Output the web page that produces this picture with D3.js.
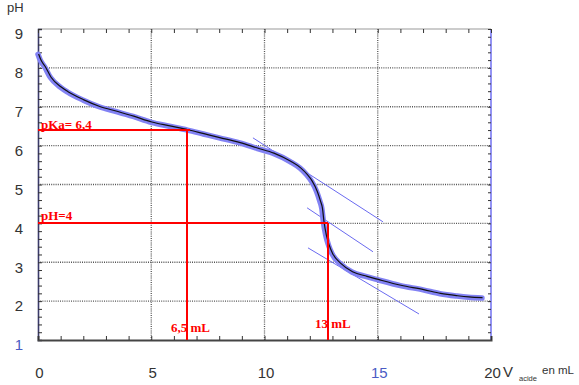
<!DOCTYPE html>
<html>
<head>
<meta charset="utf-8">
<script src="https://cdn.jsdelivr.net/npm/d3@7"></script>
<style>
  body { margin: 0; background: #fff; }
  svg { display: block; }
</style>
</head>
<body>
<div id="chart"></div>
<script>
// titration curve
var volume = [0, 0.1, 0.3, 0.55, 1.0, 1.3, 2.0, 2.7, 3.5, 4.2, 5.0, 5.8, 6.6, 7.3, 8.0, 8.9,
              9.66, 10.39, 11.13, 11.57, 11.86, 12.08, 12.3, 12.45, 12.53, 12.6, 12.7,
              12.82, 12.98, 13.33, 13.86, 14.5, 15.0, 16.0, 17.0, 17.75, 18.5, 19.0, 19.6];
var ph = [8.35, 8.2, 8.02, 7.75, 7.5, 7.38, 7.17, 7.0, 6.87, 6.75, 6.6, 6.5, 6.4, 6.3, 6.2, 6.07,
          5.93, 5.8, 5.59, 5.42, 5.25, 5.08, 4.82, 4.56, 4.39, 4.04, 3.7,
          3.45, 3.22, 2.97, 2.75, 2.63, 2.55, 2.4, 2.29, 2.19, 2.13, 2.1, 2.08];

var xTicks = [0, 5, 10, 15, 20];
var yTicks = [1, 2, 3, 4, 5, 6, 7, 8, 9];
var gridVol = [5, 10, 15];
var gridPh = [2, 3, 4, 5, 6, 7, 8];

// tangent lines [v1, pH1, v2, pH2]
var tangents = [[9.49, 6.20, 15.23, 4.04],
                [11.88, 4.40, 14.79, 3.27],
                [11.92, 3.37, 16.82, 1.67]];

// red construction lines
var pKa = 6.4, vHalf = 6.6;
var pHmark = 4, vMark = 12.8;

var W = 579, H = 385;
var x = d3.scaleLinear().domain([0, 20]).range([38, 491]);
var y = d3.scaleLinear().domain([1, 9]).range([340, 29]);

var svg = d3.select("#chart").append("svg")
    .attr("width", W)
    .attr("height", H);

// dotted grid
svg.append("g").selectAll("line")
    .data(gridPh).enter().append("line")
      .attr("x1", x(0)).attr("x2", x(20))
      .attr("y1", d => y(d)).attr("y2", d => y(d))
      .style("stroke", "#555").style("stroke-width", 1.3)
      .style("stroke-dasharray", "1,1.2");
svg.append("g").selectAll("line")
    .data(gridVol).enter().append("line")
      .attr("x1", d => x(d)).attr("x2", d => x(d))
      .attr("y1", y(9)).attr("y2", y(1))
      .style("stroke", "#555").style("stroke-width", 1.3)
      .style("stroke-dasharray", "1,1.2");

// frame
svg.append("line").attr("x1", x(0)).attr("x2", x(20)).attr("y1", y(9)).attr("y2", y(9))
    .style("stroke", "#999").style("stroke-width", 1);
svg.append("line").attr("x1", x(20)).attr("x2", x(20)).attr("y1", y(9)).attr("y2", y(1))
    .style("stroke", "#6f6ff0").style("stroke-width", 1.5);

// minor ticks (inside)
var minorPh = d3.range(1, 9.001, 0.2);
var minorVol = d3.range(0, 20.001, 1);
svg.append("g").attr("transform", "translate(" + x(0) + ",0)")
    .call(d3.axisLeft(y).tickValues(minorPh).tickSize(-4).tickFormat(""))
    .call(g => g.selectAll("line").style("stroke", "#333"))
    .call(g => g.select(".domain").style("stroke", "#3a3a6a").style("stroke-width", 1.6));
svg.append("g").attr("transform", "translate(" + x(20) + ",0)")
    .call(d3.axisRight(y).tickValues(minorPh).tickSize(-3).tickFormat(""))
    .call(g => g.selectAll("line").style("stroke", "#333"))
    .call(g => g.select(".domain").remove());
svg.append("g").attr("transform", "translate(0," + y(1) + ")")
    .call(d3.axisBottom(x).tickValues(minorVol).tickSize(-4).tickFormat(""))
    .call(g => g.selectAll("line").style("stroke", "#333"))
    .call(g => g.select(".domain").style("stroke", "#444").style("stroke-width", 2));
svg.append("g").attr("transform", "translate(0," + y(9) + ")")
    .call(d3.axisTop(x).tickValues(minorVol).tickSize(-4).tickFormat(""))
    .call(g => g.selectAll("line").style("stroke", "#333"))
    .call(g => g.select(".domain").remove());

// tick labels
svg.append("g").attr("transform", "translate(" + x(0) + ",5)")
    .call(d3.axisLeft(y).tickValues(yTicks).tickSize(0).tickPadding(15))
    .call(g => g.select(".domain").remove())
    .call(g => g.selectAll("text")
        .style("font-family", "Liberation Sans, Arial, sans-serif")
        .style("font-size", "15px")
        .style("fill", d => (d == 1 ? "#4a5bc4" : "#333")));
svg.append("g").attr("transform", "translate(1," + y(1) + ")")
    .call(d3.axisBottom(x).tickValues(xTicks).tickSize(0).tickPadding(27))
    .call(g => g.select(".domain").remove())
    .call(g => g.selectAll("text")
        .style("font-family", "Liberation Sans, Arial, sans-serif")
        .style("font-size", "15px")
        .style("fill", d => (d == 15 ? "#4a5bc4" : "#333")));

svg.append("text").attr("x", 7).attr("y", 12).text("pH")
    .style("font-family", "Liberation Sans, Arial, sans-serif")
    .style("font-size", "13px").style("fill", "#333");

var xl = svg.append("text").attr("x", 503).attr("y", 377)
    .style("font-family", "Liberation Sans, Arial, sans-serif")
    .style("fill", "#333");
xl.append("tspan").text("V").style("font-size", "15px");
xl.append("tspan").attr("x", 519).attr("y", 381).text("acide").style("font-size", "7.5px");
xl.append("tspan").attr("x", 542).attr("y", 374).text("en mL").style("font-size", "11.5px");

// tangents
svg.append("g").selectAll("line")
    .data(tangents).enter().append("line")
      .attr("x1", d => x(d[0])).attr("y1", d => y(d[1]))
      .attr("x2", d => x(d[2])).attr("y2", d => y(d[3]))
      .style("stroke", "#6a6af0").style("stroke-width", 1);

// curve: blue band with black line on top
var line = d3.line()
    .x((d, i) => x(volume[i]))
    .y(d => y(d))
    .curve(d3.curveMonotoneX);
svg.append("path").datum(ph)
    .attr("d", line)
    .style("fill", "none").style("stroke", "#8282f4").style("stroke-width", 5.5)
    .style("stroke-linecap", "round");
svg.append("path").datum(ph)
    .attr("d", line)
    .attr("transform", "translate(0.6,-0.3)")
    .style("fill", "none").style("stroke", "#111").style("stroke-width", 1.2);

// red construction
var red = "#ff0000";
var rg = svg.append("g").style("shape-rendering", "crispEdges")
    .style("stroke", red).style("stroke-width", 2);
rg.append("line").attr("x1", x(0)).attr("x2", x(vHalf) + 3)
    .attr("y1", y(pKa)).attr("y2", y(pKa));
rg.append("line").attr("x1", x(vHalf)).attr("x2", x(vHalf))
    .attr("y1", y(pKa)).attr("y2", y(1));
rg.append("line").attr("x1", x(0)).attr("x2", x(vMark))
    .attr("y1", y(pHmark)).attr("y2", y(pHmark));
rg.append("line").attr("x1", x(vMark)).attr("x2", x(vMark))
    .attr("y1", y(pHmark)).attr("y2", y(1));

function redText(tx, ty, s) {
  svg.append("text").attr("x", tx).attr("y", ty).text(s)
    .style("font-family", "Liberation Serif, Times New Roman, serif")
    .style("font-weight", "bold").style("font-size", "13px").style("fill", red);
}
redText(41, 129, "pKa= 6,4");
redText(41, 220, "pH=4");
redText(171, 332, "6,5 mL");
redText(315, 328, "13 mL");
</script>
</body>
</html>
